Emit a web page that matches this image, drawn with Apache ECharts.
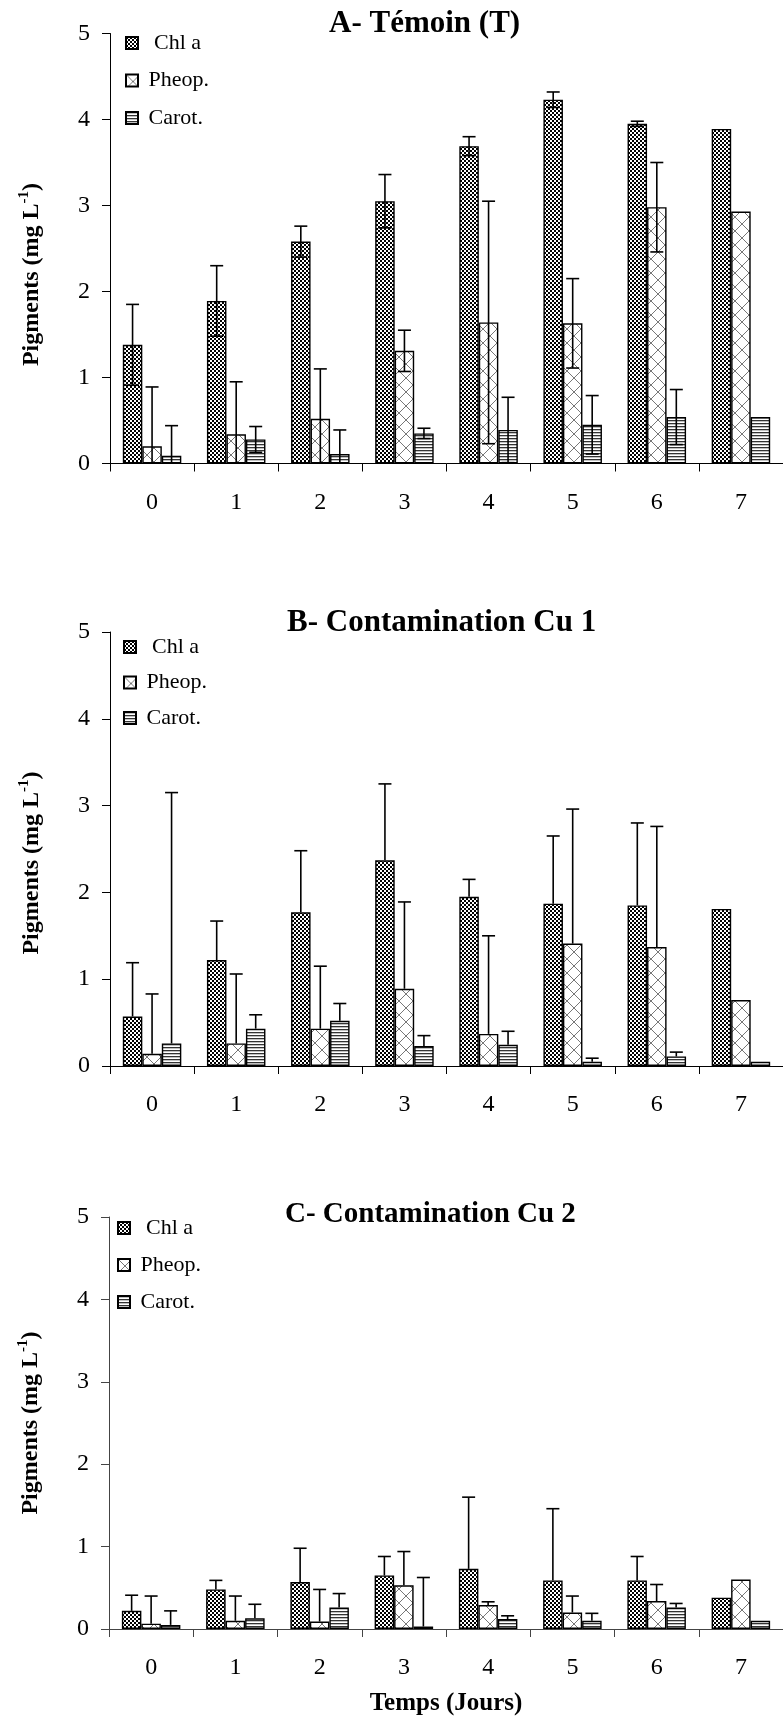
<!DOCTYPE html>
<html><head><meta charset="utf-8">
<script src="https://cdn.jsdelivr.net/npm/echarts@6/dist/echarts.min.js"></script>
<style>html,body{margin:0;padding:0;background:#fff}#c{width:783px;height:1717px}</style>
</head><body><div id="c"></div>
<script>
// ---------- DATA ----------
const days = ['0','1','2','3','4','5','6','7'];
const seriesNames = ['Chl a','Pheop.','Carot.'];
const panelTitles = ['A- Témoin (T)','B- Contamination Cu 1','C- Contamination Cu 2'];
const yMin = 0, yMax = 5, yStep = 1;

// Panel A - Témoin
const aChl      = [1.38, 1.89, 2.58, 3.05, 3.69, 4.23, 3.95, 3.89];
const aChlErr   = [0.47, 0.41, 0.18, 0.31, 0.11, 0.09, 0.03, null];
const aPheo     = [0.20, 0.34, 0.52, 1.31, 1.64, 1.63, 2.98, 2.93];
const aPheoErr  = [0.69, 0.61, 0.58, 0.24, 1.41, 0.52, 0.52, null];
const aCarot    = [0.09, 0.28, 0.11, 0.35, 0.39, 0.45, 0.54, 0.54];
const aCarotErr = [0.35, 0.15, 0.28, 0.06, 0.38, 0.34, 0.32, null];

// Panel B - Contamination Cu 1
const bChl      = [0.57, 1.22, 1.77, 2.37, 1.95, 1.87, 1.85, 1.81];
const bChlErr   = [0.62, 0.45, 0.71, 0.88, 0.20, 0.78, 0.95, null];
const bPheo     = [0.14, 0.26, 0.43, 0.89, 0.37, 1.41, 1.37, 0.76];
const bPheoErr  = [0.69, 0.80, 0.72, 1.00, 1.13, 1.55, 1.39, null];
const bCarot    = [0.26, 0.43, 0.52, 0.23, 0.245, 0.05, 0.11, 0.05];
const bCarotErr = [2.89, 0.16, 0.20, 0.12, 0.155, 0.04, 0.05, null];

// Panel C - Contamination Cu 2
const cChl      = [0.22, 0.48, 0.57, 0.65, 0.73, 0.59, 0.59, 0.38];
const cChlErr   = [0.19, 0.11, 0.41, 0.23, 0.87, 0.87, 0.29, null];
const cPheo     = [0.065, 0.10, 0.09, 0.53, 0.29, 0.20, 0.34, 0.60];
const cPheoErr  = [0.335, 0.30, 0.39, 0.41, 0.04, 0.20, 0.20, null];
const cCarot    = [0.05, 0.13, 0.26, 0.03, 0.12, 0.10, 0.26, 0.10];
const cCarotErr = [0.17, 0.17, 0.17, 0.595, 0.04, 0.09, 0.05, null];

const panels = [
  {vals:[aChl,aPheo,aCarot], errs:[aChlErr,aPheoErr,aCarotErr], both:true},
  {vals:[bChl,bPheo,bCarot], errs:[bChlErr,bPheoErr,bCarotErr], both:false},
  {vals:[cChl,cPheo,cCarot], errs:[cChlErr,cPheoErr,cCarotErr], both:false}
];

// ---------- STYLE / LAYOUT ----------
const FONT = '"Liberation Serif", "Times New Roman", serif';
const BAR_W = 19.5, CAP_W = 13;
const layout = [
  {grid:{left:110, top:33.5, width:679, height:430}, title:{left:329, top:8, size:31}, legend:{left:125, top:31, gap:13.5}, axisColor:'#000', nameShift:26},
  {grid:{left:110, top:632, width:679, height:434}, title:{left:287, top:607, size:31}, legend:{left:123, top:635, gap:11.5}, axisColor:'#000', nameShift:14},
  {grid:{left:109, top:1217, width:680, height:413}, title:{left:285, top:1200, size:29}, legend:{left:117, top:1216, gap:13}, axisColor:'#444', nameShift:0}
];

function makePattern(kind){
  const c = document.createElement('canvas');
  let g;
  if (kind === 'check'){
    c.width = 4; c.height = 4; g = c.getContext('2d');
    g.fillStyle = '#fff'; g.fillRect(0,0,4,4);
    g.fillStyle = '#000'; g.fillRect(0,0,2,2); g.fillRect(2,2,2,2);
  } else if (kind === 'cross'){
    c.width = 14; c.height = 14; g = c.getContext('2d');
    g.fillStyle = '#fff'; g.fillRect(0,0,14,14);
    g.strokeStyle = '#777'; g.lineWidth = 1;
    g.beginPath(); g.moveTo(-1,-1); g.lineTo(15,15); g.moveTo(15,-1); g.lineTo(-1,15); g.stroke();
  } else {
    c.width = 4; c.height = 3; g = c.getContext('2d');
    g.fillStyle = '#fff'; g.fillRect(0,0,4,3);
    g.fillStyle = '#333'; g.fillRect(0,0,4,1.3);
  }
  return {image:c, repeat:'repeat'};
}
const patterns = [makePattern('check'), makePattern('cross'), makePattern('lines')];

function errRender(idx, both){
  return function(params, api){
    const cat = api.value(0), v = api.value(1), e = api.value(2);
    if (e == null || isNaN(e)) return;
    const top = api.coord([cat, v + e]);
    const loVal = both ? Math.max(0, v - e) : v;
    const bot = api.coord([cat, loVal]);
    const x = top[0] + (idx - 1) * BAR_W;
    const st = {stroke:'#000', lineWidth:1.6};
    const ch = [
      {type:'line', shape:{x1:x, y1:top[1], x2:x, y2:bot[1]}, style:st},
      {type:'line', shape:{x1:x-CAP_W/2, y1:top[1], x2:x+CAP_W/2, y2:top[1]}, style:st}
    ];
    if (both && v - e > 0) ch.push({type:'line', shape:{x1:x-CAP_W/2, y1:bot[1], x2:x+CAP_W/2, y2:bot[1]}, style:st});
    return {type:'group', children:ch};
  };
}

const grids = [], xAxes = [], yAxes = [], titles = [], legends = [], series = [];
panels.forEach((p, pi) => {
  const L = layout[pi];
  grids.push(L.grid);
  titles.push({text:panelTitles[pi], left:L.title.left, top:L.title.top, padding:0,
    textStyle:{fontFamily:FONT, fontWeight:'bold', fontSize:L.title.size, color:'#000'}});
  legends.push({data:seriesNames, orient:'vertical', left:L.legend.left, top:L.legend.top, padding:0,
    itemGap:L.legend.gap, itemWidth:12, itemHeight:12, icon:'rect', selectedMode:false,
    formatter: n => n === 'Chl a' ? '  ' + n : ' ' + n,
    textStyle:{fontFamily:FONT, fontSize:22, color:'#000', lineHeight:24}});
  const axLine = {show:true, lineStyle:{color:L.axisColor, width:1}};
  xAxes.push({type:'category', gridIndex:pi, data:days, boundaryGap:true,
    axisLine:axLine, axisTick:{show:true, length:8, lineStyle:{color:L.axisColor}},
    axisLabel:{fontFamily:FONT, fontSize:24, color:'#000', margin:27},
    splitLine:{show:false},
    name: pi === 2 ? 'Temps (Jours)' : '', nameLocation:'middle', nameGap:62,
    nameTextStyle:{fontFamily:FONT, fontWeight:'bold', fontSize:25, color:'#000'}});
  yAxes.push({type:'value', gridIndex:pi, min:yMin, max:yMax, interval:yStep,
    axisLine:axLine, axisTick:{show:true, length:8, lineStyle:{color:L.axisColor}},
    axisLabel:{fontFamily:FONT, fontSize:24, color:'#000', margin:20},
    splitLine:{show:false},
    name:'{b|Pigments (mg L}{s|-1}{b|)}', nameLocation:'middle', nameRotate:90, nameGap:63,
    nameTextStyle:{color:'#000', padding:[0, 2 * L.nameShift, 0, 0], rich:{
      b:{fontFamily:FONT, fontWeight:'bold', fontSize:24, color:'#000', lineHeight:30},
      s:{fontFamily:FONT, fontWeight:'bold', fontSize:15, color:'#000', verticalAlign:'top'}
    }}});
  seriesNames.forEach((nm, si) => {
    series.push({type:'bar', name:nm, xAxisIndex:pi, yAxisIndex:pi, data:p.vals[si],
      barWidth:BAR_W, barGap:'0%',
      itemStyle:{color:patterns[si], borderColor:'#000', borderWidth:1.4},
      emphasis:{disabled:true}});
  });
  seriesNames.forEach((nm, si) => {
    series.push({type:'custom', name:nm + ' err', xAxisIndex:pi, yAxisIndex:pi, z:5,
      renderItem: errRender(si, p.both), encode:{x:0, y:1},
      data: days.map((d, i) => [i, p.vals[si][i], p.errs[si][i] == null ? NaN : p.errs[si][i]])});
  });
});

const chart = echarts.init(document.getElementById('c'), null, {renderer:'canvas'});
chart.setOption({
  animation:false, backgroundColor:'#fff',
  title:titles, legend:legends, grid:grids, xAxis:xAxes, yAxis:yAxes, series:series
});
</script></body></html>
